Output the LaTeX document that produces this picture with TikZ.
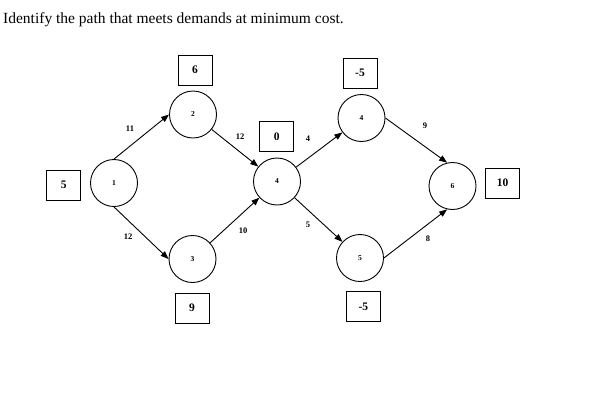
\documentclass[tikz,border=0pt]{standalone}
\usepackage{fontspec}
\setmainfont{Liberation Serif}
\usepackage{tikz}
\usetikzlibrary{arrows.meta,positioning}
\tikzset{
  netnode/.style  ={draw, circle, line width=0.9pt, minimum size=47pt,
                    inner sep=0pt, font=\fontsize{7.5}{8}\selectfont\bfseries},
  demandbox/.style={draw, line width=0.9pt, minimum width=34pt, minimum height=30pt,
                    inner sep=0pt, font=\fontsize{11.5}{12}\selectfont\bfseries},
  costlbl/.style  ={inner sep=0pt, font=\fontsize{8.5}{9}\selectfont\bfseries},
  netarr/.style   ={-{Triangle[length=8pt,width=6pt]}, line width=0.9pt},
}

\begin{document}
\begin{tikzpicture}[x=1pt,y=-1pt]
  \useasboundingbox (0,0) rectangle (610,418);
  \node[anchor=base west,inner sep=0pt,font=\fontsize{15.5}{17}\selectfont] (title) at (3,23)
    {Identify the path that meets demands at minimum cost.};

  % network nodes
  \node[netnode] (n1) at (114,183)   {1};
  \node[netnode] (n2) at (193,114.5) {2};
  \node[netnode] (n3) at (192.5,259) {3};
  \node[netnode] (n4) at (277,181.5) {4};
  \node[netnode] (n4b) at (361.5,118) {4};
  \node[netnode] (n5) at (360,258)   {5};
  \node[netnode] (n6) at (452.5,186) {6};

  % demands
  \node[demandbox] (d1) at (63.7,185) {5};
  \node[demandbox] (d2) at (195,70)   {6};
  \node[demandbox] (d3) at (192,308)  {9};
  \node[demandbox] (d4) at (276.7,136.7) {0};
  \node[demandbox] (d4b) at (360,73)  {-5};
  \node[demandbox] (d5) at (363.3,306.7) {-5};
  \node[demandbox] (d6) at (502.7,183) {10};

  % arcs
  \draw[netarr] (n1.north) -- (n2.west);
  \draw[netarr] (n1.south) -- (n3.west);
  \draw[netarr] (n2) -- (n4);
  \draw[netarr] (n3) -- (n4);
  \draw[netarr] (n4) -- (n4b);
  \draw[netarr] (n4) -- (n5);
  \draw[netarr] (n4b.east) -- (n6.103);
  \draw[netarr] (n5.east) -- (n6.257);

  % costs
  \node[costlbl] (c12) at (130,129)   {11};
  \node[costlbl] (c13) at (128,236.7) {12};
  \node[costlbl] (c24) at (240,136.7) {12};
  \node[costlbl] (c34) at (243,231)   {10};
  \node[costlbl] (c44) at (308,139)   {4};
  \node[costlbl] (c45) at (308,225)   {5};
  \node[costlbl] (c46) at (425,126)   {9};
  \node[costlbl] (c56) at (428,239)   {8};
\end{tikzpicture}
\end{document}
